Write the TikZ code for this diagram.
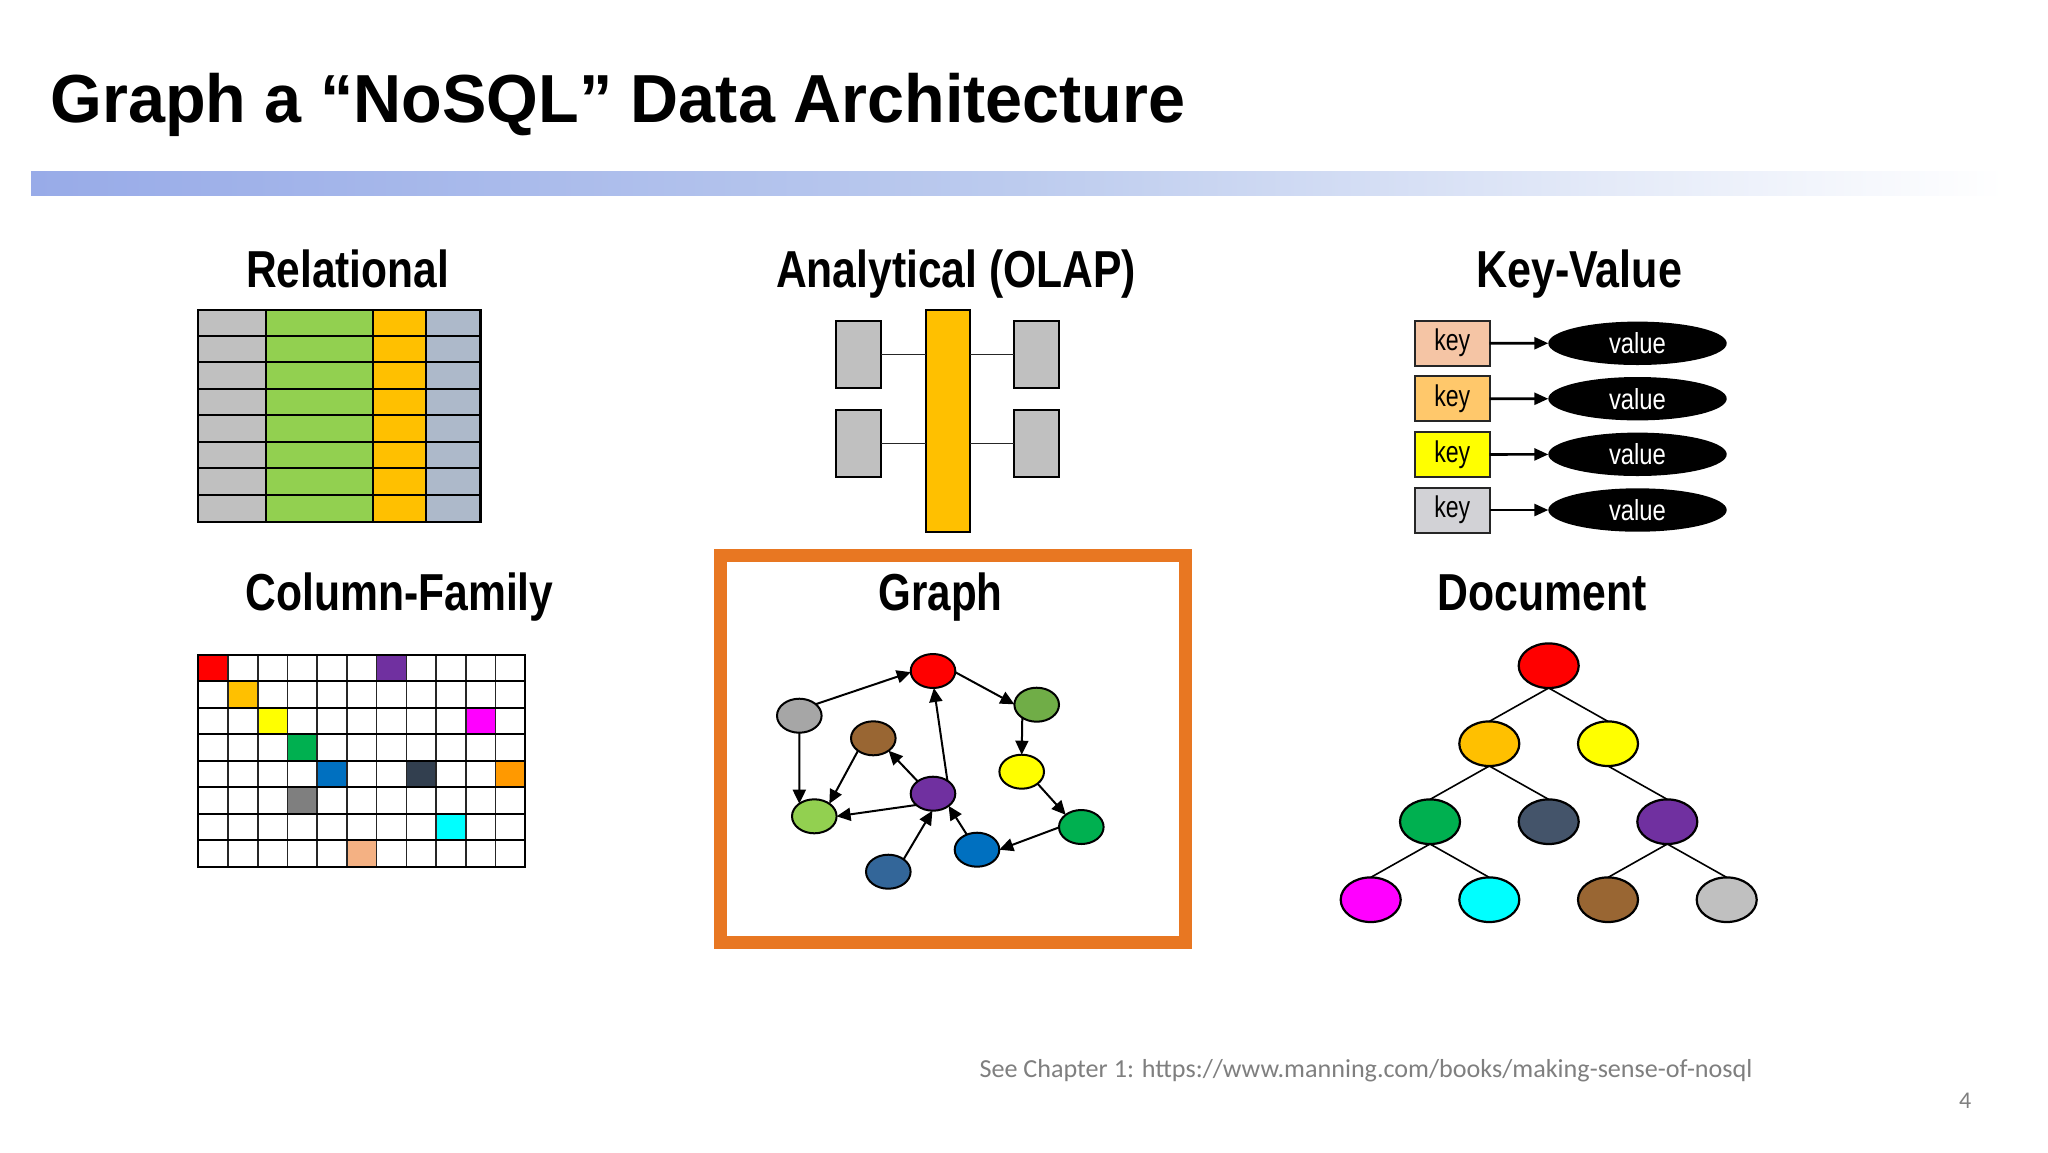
\documentclass[tikz,border=0pt]{standalone}
\usepackage{fontspec}
\usepackage{graphicx}
\setmainfont{Liberation Sans}
\newfontfamily\footfont{Carlito}
\usetikzlibrary{shapes.geometric,arrows.meta}
\newcommand{\fitw}[2]{\resizebox{#1pt}{\height}{#2}}
\newcommand{\keytxt}{\raisebox{-1.5pt}{\fitw{36}{key}}}
\newcommand{\valtxt}{\raisebox{-1pt}{\fitw{57}{value}}}
\definecolor{tblgray}{HTML}{C0C0C0}
\definecolor{tblgreen}{HTML}{92D050}
\definecolor{tblgold}{HTML}{FFC000}
\definecolor{tblblue}{HTML}{ADB9CA}
\definecolor{hiorange}{HTML}{E87722}
\definecolor{footgray}{HTML}{7F7F7F}
\definecolor{cfdark}{HTML}{323F4F}
\definecolor{cfpurple}{HTML}{7030A0}
\definecolor{cfgreen}{HTML}{00B050}
\definecolor{cfblue}{HTML}{0070C0}
\definecolor{cforange}{HTML}{FF9900}
\definecolor{cfgray}{HTML}{7F7F7F}
\definecolor{cfpeach}{HTML}{F4B183}
\definecolor{gbrown}{HTML}{996633}
\definecolor{golive}{HTML}{70AD47}
\definecolor{gsteel}{HTML}{336699}
\definecolor{gdark}{HTML}{44546A}
\definecolor{barblue}{HTML}{98ABE8}
\definecolor{barmid}{HTML}{BCCBEE}
\definecolor{pureyellow}{HTML}{FFFF00}
\definecolor{puremagenta}{HTML}{FF00FF}
\definecolor{purecyan}{HTML}{00FFFF}
\definecolor{purered}{HTML}{FF0000}
\tikzset{
  txt/.style={anchor=base west,inner sep=0pt,outer sep=0pt},
  heading/.style={txt,font=\fontsize{52}{60}\selectfont\bfseries},
  olapbox/.style={draw=black,line width=2pt,fill=tblgray,inner sep=0pt,outer sep=0pt,minimum width=45pt,minimum height=66.7pt},
  thin link/.style={draw=black!85,line width=1.4pt},
  keybox/.style={draw=black!85,line width=2pt,inner sep=0pt,outer sep=0pt,minimum width=74.7pt,minimum height=45pt,font=\fontsize{30}{34}\selectfont},
  valnode/.style={ellipse,fill=black,text=white,inner sep=0pt,outer sep=0pt,minimum width=178.4pt,minimum height=43.4pt,font=\fontsize{29}{34}\selectfont},
  kvarrow/.style={draw=black,line width=2.6pt,-{Triangle[length=14pt,width=12pt]}},
  gnode/.style={ellipse,draw=black,line width=2pt,inner sep=0pt,outer sep=0pt,minimum width=44.6pt,minimum height=34pt},
  garrow/.style={draw=black,line width=2pt,-{Triangle[length=14pt,width=13pt]}},
  dnode/.style={ellipse,draw=black,line width=2.2pt,inner sep=0pt,outer sep=0pt,minimum width=60pt,minimum height=44.6pt},
  dlink/.style={draw=black,line width=1.6pt},
}
\begin{document}
\begin{tikzpicture}[x=1pt,y=-1pt]
\useasboundingbox (0,0) rectangle (2048,1152);
\fill[white] (0,0) rectangle (2048,1152);
% title
\node[txt,font=\fontsize{68}{80}\selectfont\bfseries] (title) at (50.5,122.7) {\fitw{1135}{Graph a “NoSQL” Data Architecture}};
\shade[left color=barblue,right color=white,middle color=barmid] (31,171) rectangle (2005,195);
% headings
\node[heading] (hrel) at (246,287) {\fitw{203}{Relational}};
\node[heading] (hola) at (776,287) {\fitw{360}{Analytical (OLAP)}};
\node[heading] (hkv) at (1476,287) {\fitw{206}{Key-Value}};
\node[heading] (hcf) at (245.5,610) {\fitw{308}{Column-Family}};
\node[heading] (hdoc) at (1437.5,610) {\fitw{209}{Document}};
% relational table
\foreach \xa/\xb/\c in {198.2/265.9/tblgray,265.9/373/tblgreen,373/426.3/tblgold,426.3/480.5/tblblue}
  \fill[\c] (\xa,309.7) rectangle (\xb,521.7);
\foreach \yy in {336.3,362.3,389,415.3,442,468.3,495}
  \draw[black,line width=2pt] (198.2,\yy) -- (480.5,\yy);
\foreach \xx in {265.9,373,426.3}
  \draw[black,line width=2pt] (\xx,309.7) -- (\xx,521.7);
\draw[black,line width=2.2pt] (198.2,309.7) rectangle (480.5,521.7);
% OLAP
\node[draw=black,line width=2pt,fill=tblgold,inner sep=0pt,outer sep=0pt,minimum width=44.3pt,minimum height=222.3pt] (fact) at (947.8,421.2) {};
\node[olapbox] (l1) at (858.8,354.3) {};
\node[olapbox] (l2) at (858.8,443.3) {};
\node[olapbox] (r1) at (1036.8,354.3) {};
\node[olapbox] (r2) at (1036.8,443.3) {};
\draw[thin link] (l1.east) -- (l1.east -| fact.west);
\draw[thin link] (l2.east) -- (l2.east -| fact.west);
\draw[thin link] (r1.west) -- (r1.west -| fact.east);
\draw[thin link] (r2.west) -- (r2.west -| fact.east);
% key-value
\node[keybox,fill={rgb,255:red,245;green,197;blue,165}] (k1) at (1452.3,343.2) {\keytxt};
\node[keybox,fill={rgb,255:red,255;green,200;blue,107}] (k2) at (1452.3,398.8) {\keytxt};
\node[keybox,fill=pureyellow] (k3) at (1452.3,454.5) {\keytxt};
\node[keybox,fill={rgb,255:red,210;green,210;blue,214}] (k4) at (1452.3,510) {\keytxt};
\node[valnode] (v1) at (1637.5,343.3) {\valtxt};
\node[valnode] (v2) at (1637.5,398.7) {\valtxt};
\node[valnode] (v3) at (1637.5,454.3) {\valtxt};
\node[valnode] (v4) at (1637.5,510) {\valtxt};
\foreach \i in {1,2,3,4} \draw[kvarrow] (k\i) -- (v\i);
% column family
\foreach \cc/\rr/\c in {0/0/purered,6/0/cfpurple,1/1/tblgold,2/2/pureyellow,9/2/puremagenta,3/3/cfgreen,4/4/cfblue,7/4/cfdark,10/4/cforange,3/5/cfgray,8/6/purecyan,5/7/cfpeach}
  \fill[\c] ({198.3+29.73*\cc},{654.7+26.5*\rr}) rectangle ++(29.73,26.5);
\foreach \cc in {1,...,10}
  \draw[black!85,line width=1.6pt] ({198.3+29.73*\cc},654.7) -- ({198.3+29.73*\cc},866.7);
\foreach \rr in {1,...,7}
  \draw[black,line width=1.8pt] (198.3,{654.7+26.5*\rr}) -- (525.3,{654.7+26.5*\rr});
\draw[black,line width=2.2pt] (198.3,654.7) rectangle (525.3,866.7);
% graph
\draw[hiorange,line width=12.7pt] (720.3,555.2) rectangle (1185.5,942.7);
\node[txt,font=\fontsize{52}{60}\selectfont\bfseries] (hgraph) at (878.5,610) {\fitw{124}{Graph}};
\node[gnode,fill=purered] (gred) at (933,671) {};
\node[gnode,fill=black!35] (ggray) at (799.3,715.7) {};
\node[gnode,fill=golive] (golive) at (1036.7,704.7) {};
\node[gnode,fill=gbrown] (gbrown) at (873.3,738.3) {};
\node[gnode,fill=pureyellow] (gyellow) at (1021.7,771.7) {};
\node[gnode,fill=cfpurple] (gpurple) at (933,793.7) {};
\node[gnode,fill=tblgreen] (glime) at (814.3,816.3) {};
\node[gnode,fill=cfgreen] (ggreen) at (1081.3,827) {};
\node[gnode,fill=cfblue] (gblue) at (977,849.7) {};
\node[gnode,fill=gsteel] (gsteel) at (888.3,871.7) {};
\draw[garrow] (ggray.35) -- (gred.183);
\draw[garrow] (gred.-3) -- (golive.179);
\draw[garrow] (golive.222) -- (gyellow.90);
\draw[garrow] (gyellow.-37) -- (ggreen.142);
\draw[garrow] (ggreen.181) -- (gblue.0);
\draw[garrow] (gblue.124) -- (gpurple.-38);
\draw[garrow] (gsteel.39) -- (gpurple.268);
\draw[garrow] (gpurple.42) -- (gred.-87);
\draw[garrow] (gpurple.141) -- (gbrown.-39);
\draw[garrow] (gpurple.214) -- (glime.0);
\draw[garrow] (gbrown.219) -- (glime.40);
\draw[garrow] (ggray.270) -- (glime.140);
% document tree
\node[dnode,fill=purered] (d1) at (1548.7,665.7) {};
\node[dnode,fill=tblgold] (d2) at (1489.3,743.7) {};
\node[dnode,fill=pureyellow] (d3) at (1608,743.7) {};
\node[dnode,fill=cfgreen] (d4) at (1430,821.7) {};
\node[dnode,fill=gdark] (d5) at (1548.7,821.7) {};
\node[dnode,fill=cfpurple] (d6) at (1667.3,821.7) {};
\node[dnode,fill=puremagenta] (d7) at (1370.7,899.7) {};
\node[dnode,fill=purecyan] (d8) at (1489.3,899.7) {};
\node[dnode,fill=gbrown] (d9) at (1608,899.7) {};
\node[dnode,fill=tblgray] (d10) at (1726.7,899.7) {};
\foreach \p/\q in {d1/d2,d1/d3,d2/d4,d2/d5,d3/d6,d4/d7,d4/d8,d6/d9,d6/d10}
  \draw[dlink] (\p.south) -- (\q.north);
% footer
\node[txt,text=footgray,font=\footfont\fontsize{26}{30}\selectfont] (foot) at (979.5,1077) {\fitw{773}{See Chapter 1: https://www.manning.com/books/making-sense-of-nosql}};
\node[txt,text=footgray,font=\footfont\fontsize{24}{28}\selectfont] (pageno) at (1959,1108) {4};
\end{tikzpicture}
\end{document}
